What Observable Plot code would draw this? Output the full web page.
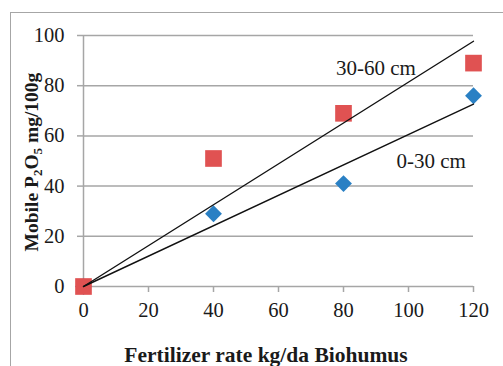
<!DOCTYPE html>
<html>
<head>
<meta charset="utf-8">
<script src="https://cdn.jsdelivr.net/npm/d3@7"></script>
<script src="https://cdn.jsdelivr.net/npm/@observablehq/plot@0.6"></script>
<style>
  html, body { margin: 0; padding: 0; background: #fff; }
  #wrap { position: relative; width: 503px; height: 366px; overflow: hidden; }
  #border { position: absolute; left: 10px; top: 12px; width: 600px; height: 400px;
            border-left: 1.5px solid #a6a6a6; border-top: 1.5px solid #a6a6a6; }
  #chart { position: absolute; left: 0; top: 0; }
</style>
</head>
<body>
<div id="wrap"><div id="border"></div><div id="chart"></div></div>
<script>
const rates = [0, 40, 80, 120];
const depth0_30 = [0, 29, 41, 76];
const depth30_60 = [0, 51, 69, 89];
const xTicks = [0, 20, 40, 60, 80, 100, 120];
const yTicks = [0, 20, 40, 60, 80, 100];
const seriesNames = ["0-30 cm", "30-60 cm"];
const labelX = [107, 90];
const labelY = [50, 87];

// linear trend through the origin (least squares)
function slope(xs, ys) {
  let sxy = 0, sxx = 0;
  xs.forEach((x, i) => { sxy += x * ys[i]; sxx += x * x; });
  return sxy / sxx;
}
const s1 = slope(rates, depth0_30), s2 = slope(rates, depth30_60);
const trend = [
  {x: 0, y: 0, s: "a"}, {x: 120, y: s1 * 120, s: "a"},
  {x: 0, y: 0, s: "b"}, {x: 120, y: s2 * 120, s: "b"}
];
const blue = rates.map((x, i) => ({x, y: depth0_30[i]}));
const red = rates.map((x, i) => ({x, y: depth30_60[i]}));
const labels = seriesNames.map((t, i) => ({t, x: labelX[i], y: labelY[i]}));

const font = "'Liberation Serif', 'Times New Roman', serif";
const plot = Plot.plot({
  width: 503, height: 366,
  marginLeft: 83, marginRight: 30, marginTop: 35, marginBottom: 80,
  style: {fontFamily: font, fontSize: "20px", color: "#1a1a1a", background: "transparent"},
  x: {domain: [0, 120], ticks: xTicks},
  y: {domain: [0, 100], ticks: yTicks},
  marks: [
    Plot.gridY(yTicks, {stroke: "#a6a6a6", strokeOpacity: 1, strokeWidth: 1.5}),
    Plot.ruleX([0], {stroke: "#a6a6a6", strokeWidth: 1.5}),
    Plot.axisY(yTicks, {tickSize: 6, tickPadding: 13, stroke: "#a6a6a6", strokeWidth: 1.5, fontSize: 20.5, label: null, tickFormat: d => d}),
    Plot.axisX(xTicks, {tickSize: 6, tickPadding: 10, stroke: "#a6a6a6", strokeWidth: 1.5, fontSize: 20.5, label: null, tickFormat: d => d}),
    Plot.dot(blue, {x: "x", y: "y", symbol: "diamond2", r: 7.6, fill: "#2a80c4", stroke: "none"}),
    Plot.dot(red, {x: "x", y: "y", symbol: "square", r: 9.4, fill: "#e05252", stroke: "none"}),
    Plot.line(trend, {x: "x", y: "y", z: "s", stroke: "#111", strokeWidth: 1.4}),
    Plot.text(labels, {x: "x", y: "y", text: "t", fontSize: 21, fill: "#1a1a1a"})
  ]
});

// axis titles
const svg = d3.select(plot);
svg.append("text")
  .attr("x", 266).attr("y", 362)
  .attr("text-anchor", "middle")
  .attr("font-family", font).attr("font-weight", "bold").attr("font-size", 21.5)
  .attr("fill", "#1a1a1a")
  .text("Fertilizer rate kg/da Biohumus");
const yt = svg.append("text")
  .attr("transform", "translate(38,162) rotate(-90)")
  .attr("text-anchor", "middle")
  .attr("font-family", font).attr("font-weight", "bold").attr("font-size", 19.5)
  .attr("fill", "#1a1a1a");
yt.append("tspan").text("Mobile P");
yt.append("tspan").attr("font-size", 13).attr("dy", 4).text("2");
yt.append("tspan").attr("dy", -4).text("O");
yt.append("tspan").attr("font-size", 13).attr("dy", 4).text("5");
yt.append("tspan").attr("dy", -4).text(" mg/100g");

document.getElementById("chart").appendChild(plot);
</script>
</body>
</html>
